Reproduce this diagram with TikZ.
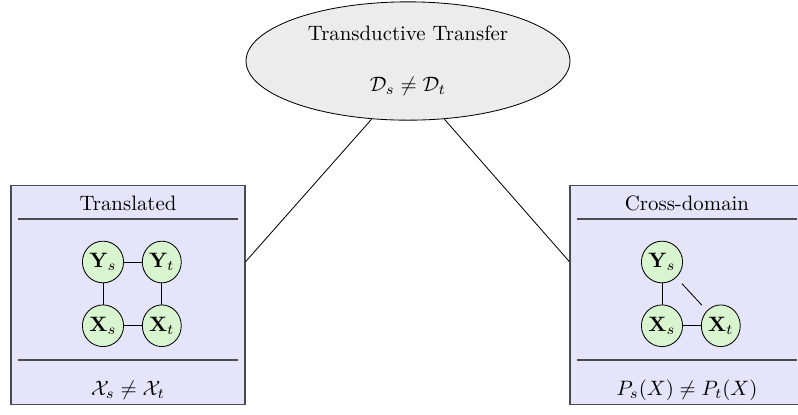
\documentclass[tikz,border=0pt]{standalone}
\usepackage{amsmath,amssymb}
\usetikzlibrary{shapes.geometric,positioning}
\definecolor{tlgray}{RGB}{236,236,236}
\definecolor{tllavender}{RGB}{228,228,250}
\definecolor{tlgreen}{RGB}{216,245,208}
\definecolor{tlframe}{RGB}{75,75,80}

\begin{document}
\begin{tikzpicture}[x=0.48pt, y=-0.48pt,
    setting/.style={ellipse, draw=black, fill=tlgray, minimum width=155.5pt, minimum height=54pt, align=center},
    panel/.style={draw=tlframe, semithick, fill=tllavender, minimum width=112.3pt, minimum height=105pt, inner sep=0pt},
    var/.style={ellipse, draw=black, fill=tlgreen, minimum width=17.8pt, minimum height=20pt, inner sep=0.5pt},
    rule/.style={draw=tlframe, semithick},
    node distance=8.6pt and 10.2pt
]
    \clip (0,0) rectangle (798,414);

    % Transductive setting
    \node[setting] (transductive) at (408,61) {Transductive Transfer\\[12.5pt] $\mathcal{D}_s \neq \mathcal{D}_t$};

    % Translated panel
    \node[panel] (translated) at (128,295) {};
    \node (translatedtitle) at (128,203) {Translated};
    \draw[rule] (18,219) -- (238,219);
    \draw[rule] (18,360) -- (238,360);
    \node (translatedcond) at (128,390) {$\mathcal{X}_s \neq \mathcal{X}_t$};

    \node[var] (ysA) at (103,262) {$\mathbf{Y}_s$};
    \node[var, right=8.6pt of ysA] (ytA) {$\mathbf{Y}_t$};
    \node[var, below=10.2pt of ysA] (xsA) {$\mathbf{X}_s$};
    \node[var, right=8.6pt of xsA] (xtA) {$\mathbf{X}_t$};
    \draw (ysA) -- (ytA);
    \draw (ysA) -- (xsA);
    \draw (ytA) -- (xtA);
    \draw (xsA) -- (xtA);

    % Cross-domain panel
    \node[panel] (crossdomain) at (687,295) {};
    \node (crossdomaintitle) at (687,203) {Cross-domain};
    \draw[rule] (577,219) -- (797,219);
    \draw[rule] (577,360) -- (797,360);
    \node (crossdomaincond) at (687,390) {$P_s(X) \neq P_t(X)$};

    \node[var] (ysB) at (662,262) {$\mathbf{Y}_s$};
    \node[var, below=10.2pt of ysB] (xsB) {$\mathbf{X}_s$};
    \node[var, right=8.6pt of xsB] (xtB) {$\mathbf{X}_t$};
    \draw (ysB) -- (xsB);
    \draw (xsB) -- (xtB);
    \draw[shorten >=3.5pt, shorten <=4pt] (ysB) -- (xtB);

    % links
    \draw (transductive.238) -- ([yshift=16pt]translated.east);
    \draw (transductive.302) -- ([yshift=16pt]crossdomain.west);
\end{tikzpicture}
\end{document}
